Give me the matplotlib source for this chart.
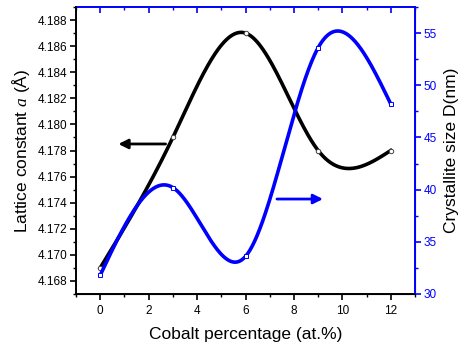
import numpy as np
import matplotlib
matplotlib.use("Agg")
import matplotlib.pyplot as plt
from matplotlib.ticker import MultipleLocator, FormatStrFormatter

plt.rcParams['font.family'] = ['Liberation Sans', 'DejaVu Sans']
plt.rcParams['mathtext.fontset'] = 'custom'
plt.rcParams['mathtext.it'] = 'Liberation Serif:italic'
plt.rcParams['mathtext.rm'] = 'Liberation Sans'

cobalt = [0, 3, 6, 9, 12]
lattice = [4.169, 4.179, 4.187, 4.178, 4.178]
crystallite = [31.8, 40.2, 33.6, 53.6, 48.2]


def natural_spline(x, y, n=400):
    x = np.asarray(x, float)
    y = np.asarray(y, float)
    k = len(x)
    h = np.diff(x)
    A = np.zeros((k, k))
    b = np.zeros(k)
    A[0, 0] = A[-1, -1] = 1.0
    for i in range(1, k - 1):
        A[i, i - 1] = h[i - 1]
        A[i, i] = 2 * (h[i - 1] + h[i])
        A[i, i + 1] = h[i]
        b[i] = 6 * ((y[i + 1] - y[i]) / h[i] - (y[i] - y[i - 1]) / h[i - 1])
    m = np.linalg.solve(A, b)
    xs = np.linspace(x[0], x[-1], n)
    idx = np.clip(np.searchsorted(x, xs) - 1, 0, k - 2)
    x0, x1 = x[idx], x[idx + 1]
    y0, y1 = y[idx], y[idx + 1]
    m0, m1 = m[idx], m[idx + 1]
    hh = x1 - x0
    t0 = x1 - xs
    t1 = xs - x0
    ys = (m0 * t0 ** 3 + m1 * t1 ** 3) / (6 * hh) \
        + (y0 / hh - m0 * hh / 6) * t0 + (y1 / hh - m1 * hh / 6) * t1
    return xs, ys


fig = plt.figure(figsize=(4.59, 3.47), dpi=100)
ax = fig.add_axes([76 / 459, 1 - 294 / 347, (415 - 76) / 459, (294 - 7) / 347])
ax2 = ax.twinx()

blue = '#0000ff'

xs, ys = natural_spline(cobalt, lattice)
ax.plot(xs, ys, color='black', lw=2.6, zorder=3)
ax.plot(cobalt, lattice, 'o', ms=3.2, mfc='white', mec='#444444', mew=0.7, zorder=4)

xs2, ys2 = natural_spline(cobalt, crystallite)
ax2.plot(xs2, ys2, color=blue, lw=2.6, zorder=3)
ax2.plot(cobalt, crystallite, 's', ms=3.0, mfc='white', mec=blue, mew=0.7, zorder=4)

ax.set_xlim(-1, 13)
ax.set_ylim(4.167, 4.189)
ax2.set_ylim(30, 57.5)

ax.xaxis.set_major_locator(MultipleLocator(2))
ax.xaxis.set_minor_locator(MultipleLocator(1))
ax.yaxis.set_major_locator(MultipleLocator(0.002))
ax.yaxis.set_minor_locator(MultipleLocator(0.001))
ax.yaxis.set_major_formatter(FormatStrFormatter('%.3f'))
ax2.yaxis.set_major_locator(MultipleLocator(5))
ax2.yaxis.set_minor_locator(MultipleLocator(2.5))

ax.tick_params(axis='both', which='major', direction='out', length=4, width=1.2,
               labelsize=8.5, pad=2)
ax.tick_params(axis='both', which='minor', direction='out', length=2.5, width=1.0)
ax.tick_params(axis='x', which='major', pad=4)
ax2.tick_params(axis='y', which='major', direction='out', length=4, width=1.2,
                labelsize=8.5, colors=blue, labelcolor=blue, pad=2)
ax2.tick_params(axis='y', which='minor', direction='out', length=2.5, width=1.0,
                colors=blue)

# top axis: blue spine with inward ticks
secx = ax.secondary_xaxis('top')
secx.xaxis.set_major_locator(MultipleLocator(2))
secx.xaxis.set_minor_locator(MultipleLocator(1))
secx.tick_params(axis='x', which='major', direction='in', length=4, width=1.2,
                 colors=blue, labeltop=False)
secx.tick_params(axis='x', which='minor', direction='in', length=2.5, width=1.0,
                 colors=blue)
secx.spines['top'].set_color(blue)
secx.spines['top'].set_linewidth(1.4)

for s in ['left', 'bottom']:
    ax.spines[s].set_linewidth(1.4)
ax.spines['top'].set_visible(False)
ax2.spines['top'].set_visible(False)
ax2.spines['right'].set_color(blue)
ax2.spines['right'].set_linewidth(1.4)
ax2.spines['left'].set_visible(False)

ax.set_xlabel('Cobalt percentage (at.%)', fontsize=12.5, labelpad=7)
ax.set_ylabel(r'Lattice constant $\mathit{a}$ (Å)', fontsize=12.5, labelpad=4)
ax2.set_ylabel('Crystallite size D(nm)', fontsize=12.5, labelpad=5)

ax.annotate('', xy=(0.75, 4.1785), xytext=(2.7, 4.1785),
            arrowprops=dict(arrowstyle='-|>', color='black', lw=2,
                            mutation_scale=14, shrinkA=0, shrinkB=0))
ax2.annotate('', xy=(9.2, 39.1), xytext=(7.3, 39.1),
             arrowprops=dict(arrowstyle='-|>', color=blue, lw=2,
                             mutation_scale=14, shrinkA=0, shrinkB=0))

fig.savefig('out.png', dpi=100)
